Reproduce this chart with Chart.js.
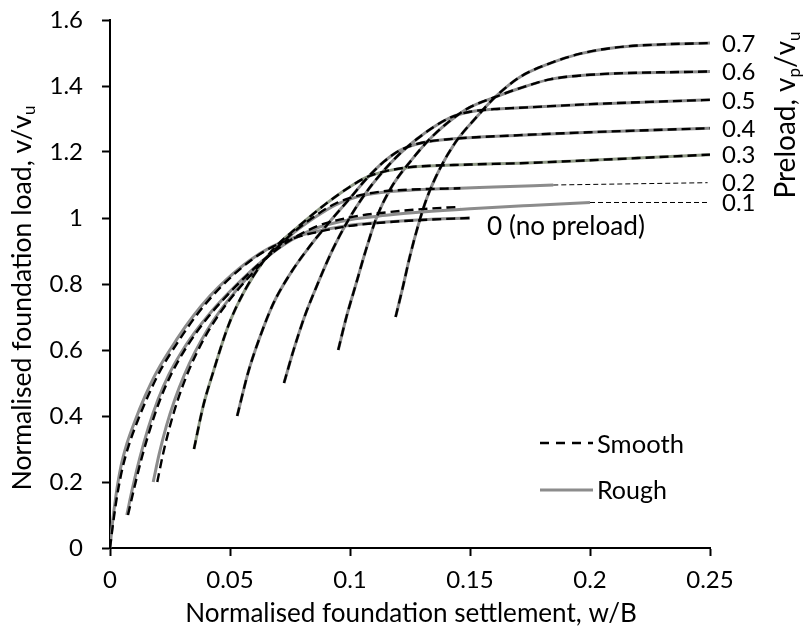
<!DOCTYPE html>
<html>
<head>
<meta charset="utf-8">
<title>Preload load-settlement curves</title>
<script src="https://cdn.jsdelivr.net/npm/chart.js@4.4.1/dist/chart.umd.min.js"></script>
<style>
  html, body { margin: 0; padding: 0; background: #fff; }
  #loadPlot { display: block; }
</style>
</head>
<body>
<canvas id="loadPlot" width="804" height="642" style="width:804px;height:642px"></canvas>
<script>
// Normalised settlement w/B vs normalised load V/Vu.
// Smooth and rough curves coincide for preloads >= 0.3.
const roughP0 = [[0,0],[0.001,0.075],[0.0025,0.16],[0.0045,0.245],[0.007,0.315],[0.0104,0.385],[0.0146,0.46],[0.0194,0.533],[0.0278,0.632],[0.0347,0.703],[0.0417,0.764],[0.0486,0.814],[0.0583,0.872],[0.0667,0.91],[0.077,0.942],[0.088,0.962],[0.1,0.978],[0.115,0.988],[0.13,0.995],[0.15,1.0]];
const smoothP0 = [[0,0],[0.0013,0.075],[0.003,0.16],[0.0053,0.245],[0.008,0.315],[0.0115,0.385],[0.0158,0.46],[0.0206,0.533],[0.029,0.632],[0.0358,0.703],[0.0427,0.764],[0.0494,0.814],[0.0588,0.872],[0.067,0.91],[0.077,0.94],[0.088,0.96],[0.1,0.976],[0.115,0.987],[0.13,0.994],[0.15,1.0]];
const roughP1 = [[0.007,0.1],[0.0095,0.185],[0.0125,0.275],[0.016,0.365],[0.02,0.45],[0.0245,0.525],[0.0295,0.59],[0.035,0.65],[0.0415,0.71],[0.049,0.77],[0.057,0.828],[0.066,0.885],[0.076,0.935],[0.087,0.972],[0.1,0.995],[0.115,1.008],[0.13,1.018],[0.15,1.028],[0.175,1.038],[0.2,1.047]];
const smoothP1 = [[0.0075,0.1],[0.0102,0.185],[0.0133,0.275],[0.0169,0.365],[0.0209,0.45],[0.0254,0.525],[0.0303,0.59],[0.0357,0.65],[0.042,0.71],[0.0494,0.77],[0.0573,0.828],[0.066,0.885],[0.076,0.937],[0.087,0.977],[0.1,1.002],[0.115,1.017],[0.13,1.027],[0.146,1.034]];
const roughP2 = [[0.018,0.2],[0.0205,0.285],[0.0235,0.37],[0.027,0.45],[0.031,0.525],[0.0355,0.595],[0.0405,0.66],[0.046,0.72],[0.0525,0.78],[0.06,0.84],[0.068,0.9],[0.0765,0.955],[0.085,1.0],[0.094,1.04],[0.103,1.064],[0.113,1.077],[0.125,1.084],[0.14,1.089],[0.16,1.094],[0.1847,1.1]];
const smoothP2 = [[0.0197,0.2],[0.0221,0.285],[0.025,0.37],[0.0283,0.45],[0.0321,0.525],[0.0364,0.595],[0.0412,0.66],[0.0466,0.72],[0.053,0.78],[0.0603,0.84],[0.0682,0.9],[0.0765,0.957],[0.085,1.004],[0.094,1.044],[0.103,1.067],[0.113,1.08],[0.125,1.086],[0.146,1.09]];
const curveP3 = [[0.035,0.3],[0.0389,0.432],[0.043,0.533],[0.0486,0.66],[0.0528,0.733],[0.0597,0.824],[0.068,0.905],[0.0778,0.97],[0.0903,1.045],[0.1,1.095],[0.107,1.124],[0.115,1.142],[0.125,1.154],[0.15,1.162],[0.1708,1.166],[0.2,1.175],[0.25,1.192]];
const curveP4 = [[0.053,0.4],[0.0576,0.533],[0.0625,0.64],[0.068,0.74],[0.075,0.83],[0.0833,0.915],[0.0917,0.99],[0.1,1.06],[0.107,1.12],[0.114,1.17],[0.1208,1.205],[0.13,1.228],[0.14,1.238],[0.1708,1.251],[0.2,1.26],[0.25,1.272]];
const curveP5 = [[0.0725,0.5],[0.0765,0.6],[0.081,0.7],[0.0865,0.8],[0.0925,0.9],[0.099,0.99],[0.106,1.07],[0.113,1.135],[0.1208,1.195],[0.128,1.24],[0.1347,1.275],[0.142,1.305],[0.15,1.322],[0.16,1.33],[0.1708,1.334],[0.2,1.345],[0.25,1.358]];
const curveP6 = [[0.0951,0.6],[0.0985,0.7],[0.1025,0.8],[0.1065,0.9],[0.111,1.0],[0.117,1.09],[0.125,1.17],[0.1347,1.25],[0.1486,1.33],[0.161,1.368],[0.1736,1.4],[0.1833,1.42],[0.2,1.434],[0.25,1.444]];
const curveP7 = [[0.119,0.7],[0.122,0.79],[0.125,0.885],[0.1285,0.98],[0.132,1.06],[0.1375,1.15],[0.144,1.23],[0.152,1.3],[0.161,1.37],[0.171,1.428],[0.183,1.468],[0.196,1.498],[0.211,1.517],[0.23,1.526],[0.25,1.53]];
// thin dashed extensions out to the labels
const guideP1 = [[0.2,1.047],[0.249,1.047]];
const guideP2 = [[0.1847,1.1],[0.249,1.107]];

const preloadLabels = ['0.7', '0.6', '0.5', '0.4', '0.3', '0.2', '0.1'];
const preloadEnds = [curveP7, curveP6, curveP5, curveP4, curveP3, guideP2, guideP1];
const xTickLabels = ['0', '0.05', '0.1', '0.15', '0.2', '0.25'];
const yTickLabels = ['0', '0.2', '0.4', '0.6', '0.8', '1', '1.2', '1.4', '1.6'];

const FONT = 'Lato, "Open Sans", sans-serif';
const ROUGH = '#8c8c8c';

function pts(arr) {
    return arr.map(p => ({ x: p[0], y: p[1] }));
}

function rough(arr, color) {
    return { data: pts(arr), borderColor: color || ROUGH, borderWidth: 3, order: 2 };
}
function smooth(arr) {
    return { data: pts(arr), borderColor: '#000', borderWidth: 2.4, borderDash: [9, 5], order: 1 };
}
function guide(arr) {
    return { data: pts(arr), borderColor: '#000', borderWidth: 1, borderDash: [5, 3], order: 1 };
}

// text with subscripts: parts = [[text, isSub], ...]
function richWidth(ctx, parts, size) {
    let w = 0;
    parts.forEach(p => {
        ctx.font = (p[1] ? Math.round(size * 0.62) : size) + 'px ' + FONT;
        w += ctx.measureText(p[0]).width;
    });
    return w;
}
function drawRich(ctx, parts, size, x, y, align) {
    const total = richWidth(ctx, parts, size);
    let cx = align === 'center' ? x - total / 2 : x;
    ctx.textAlign = 'left';
    ctx.textBaseline = 'middle';
    parts.forEach(p => {
        const s = p[1] ? Math.round(size * 0.62) : size;
        ctx.font = s + 'px ' + FONT;
        ctx.fillText(p[0], cx, p[1] ? y + size * 0.3 : y);
        cx += ctx.measureText(p[0]).width;
    });
}
function fitSize(ctx, parts, target) {
    const w = richWidth(ctx, parts, 24);
    return Math.max(20, Math.min(28, 24 * target / w));
}

const annotations = {
    id: 'annotations',
    afterDraw(chart) {
        const ctx = chart.ctx;
        const xs = chart.scales.x, ys = chart.scales.y;
        ctx.save();
        ctx.fillStyle = '#000';

        // preload labels at the right-hand ends of the curves
        const lx = xs.getPixelForValue(0.25) + 12;
        preloadLabels.forEach((label, i) => {
            const end = preloadEnds[i][preloadEnds[i].length - 1];
            drawRich(ctx, [[label, false]], 24, lx, ys.getPixelForValue(end[1]) + 1, 'left');
        });
        const end0 = roughP0[roughP0.length - 1];
        const t0 = [['0 (no preload)', false]];
        drawRich(ctx, t0, fitSize(ctx, t0, 158), xs.getPixelForValue(end0[0]) + 17, ys.getPixelForValue(end0[1]) + 9, 'left');

        // axis titles
        const xt = [['Normalised foundation settlement, w/B', false]];
        drawRich(ctx, xt, fitSize(ctx, xt, 452), 411, 614, 'center');

        const yt = [['Normalised foundation load, v/v', false], ['u', true]];
        ctx.save();
        ctx.translate(22, 298);
        ctx.rotate(-Math.PI / 2);
        drawRich(ctx, yt, fitSize(ctx, yt, 385), 0, 0, 'center');
        ctx.restore();

        const rt = [['Preload, v', false], ['p', true], ['/v', false], ['u', true]];
        ctx.save();
        ctx.translate(786, 115);
        ctx.rotate(-Math.PI / 2);
        drawRich(ctx, rt, fitSize(ctx, rt, 170), 0, 0, 'center');
        ctx.restore();

        // legend
        ctx.lineWidth = 2.4;
        ctx.strokeStyle = '#000';
        ctx.setLineDash([9, 7]);
        ctx.beginPath(); ctx.moveTo(540, 443); ctx.lineTo(593, 443); ctx.stroke();
        ctx.setLineDash([]);
        ctx.lineWidth = 3;
        ctx.strokeStyle = ROUGH;
        ctx.beginPath(); ctx.moveTo(540, 490); ctx.lineTo(593, 490); ctx.stroke();
        const ls = [['Smooth', false]], lr = [['Rough', false]];
        drawRich(ctx, ls, fitSize(ctx, ls, 87), 597, 445, 'left');
        drawRich(ctx, lr, fitSize(ctx, lr, 70), 597, 491, 'left');
        ctx.restore();
    }
};

function createPlot() {
    const ctx = document.getElementById('loadPlot').getContext('2d');
    const datasets = [
        rough(roughP0), rough(roughP1), rough(roughP2), rough(curveP3, '#909a86'),
        rough(curveP4), rough(curveP5), rough(curveP6), rough(curveP7),
        smooth(smoothP0), smooth(smoothP1), smooth(smoothP2), smooth(curveP3),
        smooth(curveP4), smooth(curveP5), smooth(curveP6), smooth(curveP7),
        guide(guideP1), guide(guideP2)
    ];

    new Chart(ctx, {
        type: 'line',
        data: { datasets: datasets },
        options: {
            responsive: false,
            animation: false,
            devicePixelRatio: 1,
            layout: { padding: { top: 20, right: 94, left: 0, bottom: 0 } },
            elements: {
                point: { radius: 0 },
                line: { cubicInterpolationMode: 'monotone', fill: false, borderCapStyle: 'butt' }
            },
            plugins: { legend: { display: false }, tooltip: { enabled: false } },
            scales: {
                x: {
                    type: 'linear', min: 0, max: 0.25,
                    afterFit: s => { s.height = 94; s.paddingLeft = 0; s.paddingRight = 0; },
                    afterBuildTicks: s => { s.ticks = xTickLabels.map((t, i) => ({ value: i * 0.05 })); },
                    ticks: {
                        callback: (v, i) => xTickLabels[i],
                        font: { family: FONT, size: 24 }, color: '#000', padding: 10, maxRotation: 0
                    },
                    grid: { drawOnChartArea: false, drawTicks: true, tickLength: 8, tickColor: '#000', tickWidth: 2 },
                    border: { color: '#000', width: 2 }
                },
                y: {
                    type: 'linear', min: 0, max: 1.6,
                    // fixed plot box: drop the label overflow padding Chart.js adds
                    afterFit: s => { s.width = 110; s.paddingTop = 0; s.paddingBottom = 0; },
                    afterBuildTicks: s => { s.ticks = yTickLabels.map((t, i) => ({ value: i * 0.2 })); },
                    ticks: {
                        callback: (v, i) => yTickLabels[i],
                        font: { family: FONT, size: 24 }, color: '#000', padding: 19
                    },
                    grid: { drawOnChartArea: false, drawTicks: true, tickLength: 8, tickColor: '#000', tickWidth: 2 },
                    border: { color: '#000', width: 2 }
                }
            }
        },
        plugins: [annotations]
    });
}

document.addEventListener('DOMContentLoaded', createPlot);
</script>
</body>
</html>
